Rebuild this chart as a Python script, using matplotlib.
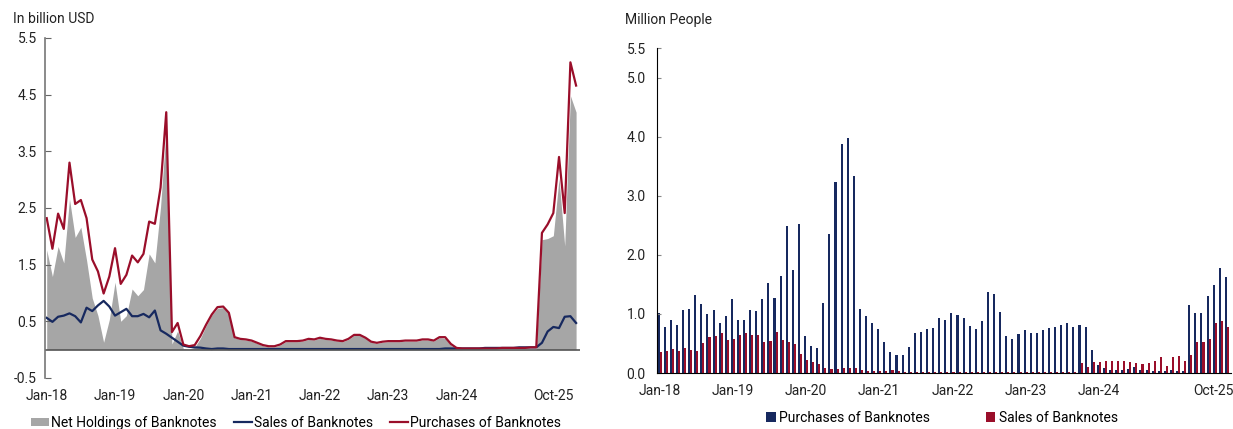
import matplotlib.pyplot as plt
import numpy as np
from matplotlib.patches import Patch
from matplotlib.lines import Line2D

plt.rcParams['font.family'] = ['Roboto', 'DejaVu Sans']
plt.rcParams['font.size'] = 10

# monthly, Jan-18 .. Oct-25 (94 months)
tick_pos = [0, 12, 24, 36, 48, 60, 72]
tick_labels = ['Jan-18', 'Jan-19', 'Jan-20', 'Jan-21', 'Jan-22', 'Jan-23', 'Jan-24']

# left panel, billion USD
purchases_usd = [
    2.32, 1.78, 2.40, 2.13, 3.30, 2.57, 2.64, 2.32, 1.59, 1.38, 0.99, 1.29,
    1.79, 1.16, 1.32, 1.66, 1.54, 1.69, 2.26, 2.22, 2.86, 4.19, 0.31, 0.47,
    0.09, 0.06, 0.08, 0.24, 0.44, 0.62, 0.75, 0.76, 0.65, 0.22, 0.19, 0.18,
    0.16, 0.12, 0.08, 0.06, 0.06, 0.09, 0.15, 0.15, 0.15, 0.16, 0.19, 0.18,
    0.21, 0.19, 0.18, 0.16, 0.15, 0.19, 0.26, 0.26, 0.21, 0.14, 0.12, 0.14,
    0.15, 0.15, 0.15, 0.16, 0.16, 0.16, 0.18, 0.18, 0.16, 0.22, 0.22, 0.10,
    0.03, 0.02, 0.02, 0.02, 0.02, 0.02, 0.02, 0.02, 0.03, 0.03, 0.03, 0.03,
    0.03, 0.04, 0.04, 2.06, 2.21, 2.41, 3.40, 2.41, 5.07, 4.66,
]
sales_usd = [
    0.56, 0.49, 0.58, 0.60, 0.64, 0.59, 0.48, 0.74, 0.68, 0.78, 0.86, 0.76,
    0.60, 0.66, 0.72, 0.59, 0.59, 0.63, 0.57, 0.69, 0.34, 0.28, 0.21, 0.14,
    0.07, 0.05, 0.04, 0.035, 0.02, 0.01, 0.02, 0.02, 0.01, 0.01, 0.01, 0.01,
    0.01, 0.01, 0.01, 0.01, 0.01, 0.01, 0.01, 0.01, 0.01, 0.01, 0.01, 0.01,
    0.01, 0.01, 0.01, 0.01, 0.01, 0.01, 0.01, 0.01, 0.01, 0.01, 0.01, 0.01,
    0.01, 0.01, 0.01, 0.01, 0.01, 0.01, 0.01, 0.01, 0.01, 0.01, 0.02, 0.02,
    0.02, 0.02, 0.02, 0.02, 0.02, 0.03, 0.03, 0.03, 0.03, 0.03, 0.03, 0.04,
    0.04, 0.04, 0.04, 0.12, 0.32, 0.40, 0.38, 0.58, 0.59, 0.47,
]
net_usd = [
    1.76, 1.29, 1.82, 1.53, 2.66, 1.98, 2.16, 1.58, 0.91, 0.60, 0.13, 0.53,
    1.19, 0.50, 0.60, 1.07, 0.95, 1.06, 1.69, 1.53, 2.52, 3.91, 0.10, 0.33,
    0.02, 0.01, 0.04, 0.20, 0.42, 0.61, 0.73, 0.74, 0.64, 0.21, 0.18, 0.17,
    0.15, 0.11, 0.07, 0.05, 0.05, 0.08, 0.14, 0.14, 0.14, 0.15, 0.18, 0.17,
    0.20, 0.18, 0.17, 0.15, 0.14, 0.18, 0.25, 0.25, 0.20, 0.13, 0.11, 0.13,
    0.14, 0.14, 0.14, 0.15, 0.15, 0.15, 0.17, 0.17, 0.15, 0.21, 0.20, 0.08,
    0.01, 0.00, 0.00, 0.00, 0.00, 0.00, 0.00, 0.00, 0.00, 0.00, 0.00, 0.00,
    0.00, 0.00, 0.00, 1.94, 1.96, 2.01, 3.02, 1.83, 4.48, 4.19,
]

# right panel, million people
purchases_ppl = [
    1.01, 0.78, 0.90, 0.81, 1.06, 1.09, 1.32, 1.17, 1.00, 1.06, 0.85, 0.96,
    1.25, 0.90, 0.90, 1.06, 1.05, 1.26, 1.52, 1.27, 1.65, 2.49, 1.74, 2.53,
    0.62, 0.45, 0.43, 1.18, 2.35, 3.24, 3.88, 3.97, 3.33, 1.09, 0.96, 0.84,
    0.75, 0.53, 0.35, 0.30, 0.30, 0.44, 0.68, 0.69, 0.75, 0.76, 0.93, 0.90,
    1.01, 0.99, 0.93, 0.79, 0.75, 0.88, 1.37, 1.33, 1.04, 0.62, 0.57, 0.66,
    0.72, 0.68, 0.67, 0.72, 0.76, 0.78, 0.81, 0.84, 0.78, 0.81, 0.78, 0.39,
    0.13, 0.09, 0.05, 0.05, 0.05, 0.06, 0.10, 0.05, 0.05, 0.03, 0.03, 0.03,
    0.05, 0.03, 0.03, 1.15, 1.01, 1.02, 1.30, 1.49, 1.78, 1.62,
]
sales_ppl = [
    0.35, 0.37, 0.40, 0.38, 0.43, 0.39, 0.38, 0.51, 0.61, 0.63, 0.67, 0.56,
    0.58, 0.65, 0.68, 0.64, 0.65, 0.53, 0.54, 0.69, 0.56, 0.52, 0.49, 0.33,
    0.22, 0.19, 0.15, 0.09, 0.07, 0.07, 0.08, 0.09, 0.08, 0.05, 0.03, 0.03,
    0.03, 0.04, 0.05, 0.03, 0.02, 0.02, 0.02, 0.02, 0.02, 0.02, 0.02, 0.02,
    0.02, 0.02, 0.02, 0.02, 0.02, 0.02, 0.02, 0.02, 0.02, 0.02, 0.02, 0.02,
    0.02, 0.02, 0.02, 0.02, 0.02, 0.02, 0.02, 0.02, 0.02, 0.17, 0.11, 0.19,
    0.19, 0.20, 0.20, 0.20, 0.20, 0.18, 0.17, 0.15, 0.17, 0.20, 0.27, 0.12,
    0.27, 0.29, 0.21, 0.30, 0.52, 0.53, 0.57, 0.84, 0.88, 0.78,
]

RED = '#9A0E2A'
NAVY = '#17295F'
GREY = '#A6A6A6'

x = np.arange(len(purchases_usd))

fig = plt.figure(figsize=(12.33, 4.29), dpi=100)

# ---- left panel
ax1 = fig.add_axes([0.0365, 0.119, 0.4335, 0.7925])
ax1.fill_between(x, 0, net_usd, color=GREY, linewidth=0)
ax1.plot(x, sales_usd, color=NAVY, lw=1.6)
ax1.plot(x, purchases_usd, color=RED, lw=1.6)
ax1.axhline(0, color='#555555', lw=1.2)
ax1.set_xlim(-0.3, 93.6)
ax1.set_ylim(-0.5, 5.5)
ax1.set_yticks([-0.5, 0.5, 1.5, 2.5, 3.5, 4.5, 5.5])
ax1.set_yticklabels(['-0.5', '0.5', '1.5', '2.5', '3.5', '4.5', '5.5'])
ax1.set_xticks(tick_pos + [89])
ax1.set_xticklabels(tick_labels + ['Oct-25'])
ax1.tick_params(axis='x', length=0, pad=8, labelsize=10, colors='#222222')
ax1.tick_params(axis='y', direction='in', length=4, color='#666666', labelsize=10,
                colors='#222222', pad=6)
for s in ['top', 'right', 'bottom']:
    ax1.spines[s].set_visible(False)
ax1.spines['left'].set_color('#777777')
ax1.spines['left'].set_linewidth(1.2)
fig.text(13 / 1233, 1 - 19 / 429, 'In billion USD', fontsize=10, va='center', ha='left',
         color='#222222')

h1 = [Patch(facecolor=GREY, edgecolor='none'),
      Line2D([], [], color=NAVY, lw=1.6),
      Line2D([], [], color=RED, lw=1.6)]
fig.legend(h1, ['Net Holdings of Banknotes', 'Sales of Banknotes', 'Purchases of Banknotes'],
           loc='center', bbox_to_anchor=(0.240, 0.015), ncol=3, frameon=False,
           handlelength=1.3, handleheight=0.5, handletextpad=0.15, columnspacing=1.2,
           fontsize=10, borderpad=0)

# ---- right panel
ax2 = fig.add_axes([0.5328, 0.1305, 0.4652, 0.7575])
w = 0.34
ax2.bar(x - w / 2, purchases_ppl, width=w, color=NAVY, linewidth=0)
ax2.bar(x + w / 2, sales_ppl, width=w, color=RED, linewidth=0)
ax2.set_xlim(-0.45, 93.6)
ax2.set_ylim(0, 5.5)
ax2.set_yticks([0, 1, 2, 3, 4, 5, 5.5])
ax2.set_yticklabels(['0.0', '1.0', '2.0', '3.0', '4.0', '5.0', '5.5'])
ax2.set_xticks(tick_pos + [90.8])
ax2.set_xticklabels(tick_labels + ['Oct-25'])
ax2.tick_params(axis='x', length=0, pad=8, labelsize=10, colors='#222222')
ax2.tick_params(axis='y', direction='in', length=3, color='#888888', labelsize=10,
                colors='#222222', pad=8)
for s in ['top', 'right']:
    ax2.spines[s].set_visible(False)
ax2.spines['left'].set_color('black')
ax2.spines['bottom'].set_color('black')
fig.text(625 / 1233, 1 - 20 / 429, 'Million People', fontsize=10, va='center', ha='left',
         color='#222222')

h2 = [Patch(facecolor=NAVY, edgecolor='none'), Patch(facecolor=RED, edgecolor='none')]
fig.legend(h2, ['Purchases of Banknotes', 'Sales of Banknotes'],
           loc='center', bbox_to_anchor=(0.764, 0.026), ncol=2, frameon=False,
           handlelength=0.7, handleheight=0.7, handletextpad=0.25, columnspacing=4.0,
           fontsize=10, borderpad=0)

fig.savefig('out.png', dpi=100)
